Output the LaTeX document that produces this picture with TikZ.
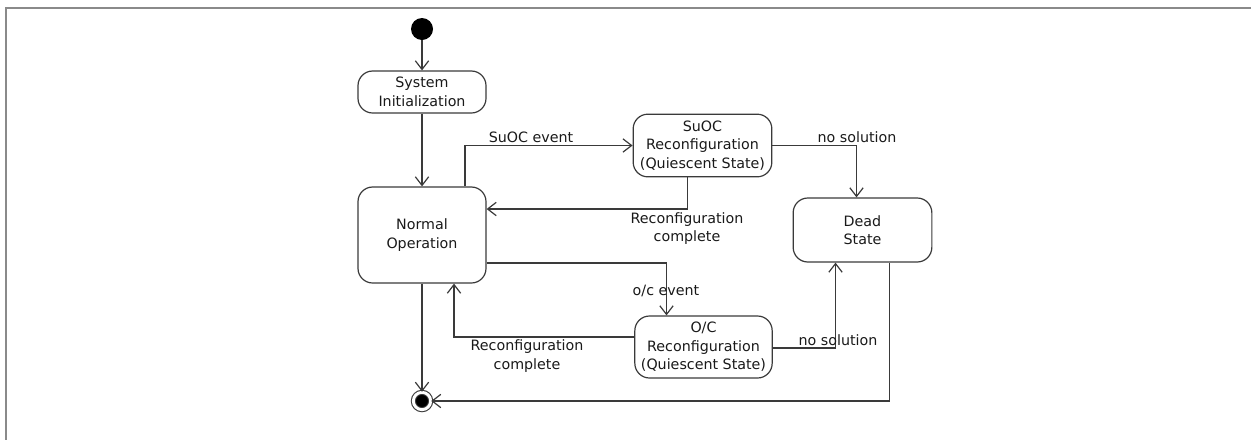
\documentclass[tikz,border=0pt]{standalone}
\usepackage{fontspec}
\setmainfont{DejaVu Sans}
\usepackage{xcolor}
\usepackage{tikz}
\usetikzlibrary{arrows.meta,calc}
\definecolor{umlline}{HTML}{3A3A3A}
\definecolor{framegray}{HTML}{8A8A8A}

\begin{document}
\begin{tikzpicture}[x=0.75pt,y=0.75pt,yscale=-1,xscale=1,
  every node/.style={font=\fontsize{10.7}{13.9}\selectfont, text=black!90},
  state/.style={draw=umlline, line width=0.9pt, rounded corners=11pt, align=center, inner sep=0pt},
  trans/.style={draw=umlline, line width=0.9pt, -{Straight Barb[length=6.5pt,width=10pt]}},
  lbl/.style={align=center, inner sep=1pt}]
\useasboundingbox (0,0) rectangle (1251,440);
\draw [framegray, line width=1.6pt] (1251,8) -- (6,8) -- (6,440);

% states
\node [circle, fill=black, minimum size=16.5pt, inner sep=0pt] (start) at (422,29) {};
\node [state, minimum width=96pt, minimum height=31.5pt] (init) at (422,92) {System\\Initialization};
\node [state, minimum width=96pt, minimum height=72pt] (normal) at (422,235) {Normal\\Operation};
\node [state, minimum width=104pt, minimum height=47pt] (suoc) at (702.5,145.5) {SuOC\\Reconfiguration\\(Quiescent State)};
\node [state, minimum width=104pt, minimum height=48pt] (dead) at (862.5,230) {Dead\\State};
\node [state, minimum width=103pt, minimum height=46.5pt] (oc) at (703.5,347) {O/C\\Reconfiguration\\(Quiescent State)};
\node [circle, fill=black, draw=umlline, line width=0.8pt, double=white, double distance=2.2pt, minimum size=13pt, inner sep=0pt] (final) at (422,401) {};

% transitions
\draw [trans] (start) -- (init);
\draw [trans] (init) -- (normal);
\draw [trans] ($(normal.north)+(43,0)$) |- (suoc.west);
\draw [trans] (suoc.east) -| ($(dead.north)+(-6,0)$);
\draw [trans] ($(suoc.south)+(-15,0)$) |- ($(normal.east)+(0,-26)$);
\draw [trans] ($(normal.east)+(0,28)$) -| ($(oc.north)+(-37,0)$);
\draw [trans] ($(oc.west)+(0,-10)$) -| ($(normal.south)+(32,0)$);
\draw [trans] ($(oc.east)+(0,1)$) -| ($(dead.south)+(-27,0)$);
\draw [trans] ($(dead.south)+(27,0)$) |- (final.east);
\draw [trans] (normal) -- (final);

% labels
\node [lbl] (lsuoc) at (531,137) {SuOC event};
\node [lbl] (lnosol1) at (857,137) {no solution};
\node [lbl] (lcomp1) at (687,228.5) {Reconfiguration\\complete};
\node [lbl] (loc) at (666,291) {o/c event};
\node [lbl] (lcomp2) at (527,356) {Reconfiguration\\complete};
\node [lbl] (lnosol2) at (838,340) {no solution};
\end{tikzpicture}
\end{document}
